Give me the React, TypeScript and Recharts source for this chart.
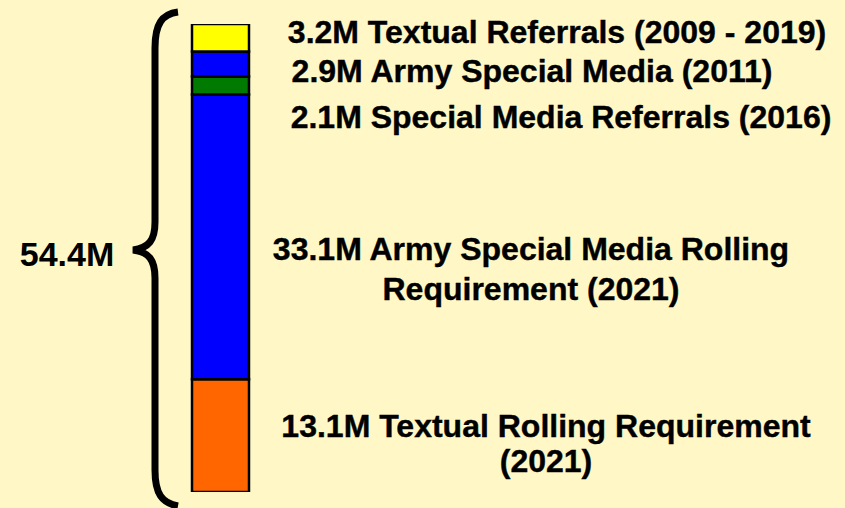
import { BarChart, Bar, XAxis, YAxis, Customized } from 'recharts';

const category = 'Holdings';
const segmentKeys = ['textualRolling', 'armyRolling', 'specialReferrals', 'armySpecial', 'textualReferrals'];
const segmentValues = [13.1, 33.1, 2.1, 2.9, 3.2];
const segmentColors = ['#FF6600', '#0000FF', '#007A00', '#0000FF', '#FFFF00'];
const segmentLabels = [
  ['13.1M Textual Rolling Requirement', '(2021)'],
  ['33.1M Army Special Media Rolling', 'Requirement (2021)'],
  ['2.1M Special Media Referrals (2016)'],
  ['2.9M Army Special Media (2011)'],
  ['3.2M Textual Referrals (2009 - 2019)'],
];
const totalLabel = '54.4M';

const total = segmentValues.reduce((a, b) => a + b, 0);
const row: Record<string, number | string> = { name: category };
segmentKeys.forEach((k, i) => {
  row[k] = segmentValues[i];
});
const data = [row];

const font = '"Liberation Sans", Arial, Helvetica, sans-serif';

// where each label block sits (center x, baseline of each line)
const labelPos = [
  { x: 546, y: [437, 472] },
  { x: 531, y: [260, 300] },
  { x: 561, y: [128] },
  { x: 532, y: [82] },
  { x: 557, y: [43] },
];

function Annotations() {
  return (
    <g>
      <path
        d="M 178 12 C 162 14, 155 24, 155 48 L 155 222 C 155 240, 149 248, 133 250 C 149 252, 155 260, 155 278 L 155 470 C 155 494, 162 503, 178 506"
        fill="none"
        stroke="#000"
        strokeWidth={7}
      />
      <text x={67} y={266} textAnchor="middle" fontFamily={font} fontWeight="bold" fontSize={34} fill="#000">
        {totalLabel}
      </text>
      {segmentLabels.map((lines, i) =>
        lines.map((line, j) => (
          <text
            key={`${i}-${j}`}
            x={labelPos[i].x}
            y={labelPos[i].y[j]}
            textAnchor="middle"
            fontFamily={font}
            fontWeight="bold"
            fontSize={32}
            fill="#000"
            stroke="#000"
            strokeWidth={0.4}
          >
            {line}
          </text>
        ))
      )}
    </g>
  );
}

export default function App() {
  return (
    <div style={{ position: 'absolute', left: 0, top: 0, width: 845, height: 508, background: '#FFF7C6' }}>
      <BarChart
        width={845}
        height={508}
        data={data}
        barSize={57}
        margin={{ top: 24, right: 564, left: 160, bottom: 16 }}
      >
        <XAxis dataKey="name" hide />
        <YAxis hide domain={[0, total]} allowDataOverflow />
        {segmentKeys.map((k, i) => (
          <Bar
            key={k}
            dataKey={k}
            stackId="a"
            fill={segmentColors[i]}
            stroke="#000"
            strokeWidth={2.5}
            isAnimationActive={false}
          />
        ))}
        <Customized component={Annotations} />
      </BarChart>
    </div>
  );
}
